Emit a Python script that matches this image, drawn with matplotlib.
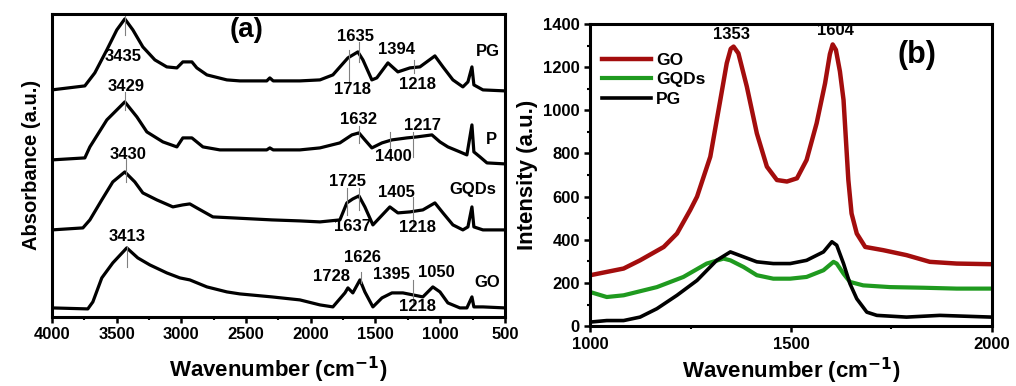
import matplotlib.pyplot as plt
from matplotlib.ticker import MultipleLocator

plt.rcParams['font.family'] = ['Liberation Sans', 'DejaVu Sans']
plt.rcParams['font.weight'] = 'bold'

# ---- panel (a): FTIR, stacked (wavenumber, absorbance offset units) ----
pg_wn = [4000, 3745, 3668, 3575, 3498, 3436, 3374, 3297, 3204, 3112, 3034, 2988, 2918, 2880,
         2802, 2648, 2548, 2393, 2340, 2316, 2290, 2084, 1929, 1829, 1713, 1636, 1597, 1528,
         1490, 1404, 1327, 1234, 1157, 1041, 979, 902, 825, 786, 755, 740, 670, 500]
pg_ab = [227, 231, 244, 267, 287, 298, 287, 270, 257, 250, 249, 255, 255, 249,
         242, 237, 236, 236, 236, 239, 236, 236, 237, 242, 259, 265, 257, 237,
         239, 254, 245, 249, 250, 261, 250, 237, 230, 235, 250, 232, 227, 226]

p_wn = [4000, 3745, 3706, 3575, 3436, 3343, 3266, 3142, 3034, 2988, 2918, 2833, 2702, 2548,
        2340, 2316, 2290, 2084, 1929, 1775, 1682, 1628, 1582, 1528, 1450, 1373, 1257, 1180,
        1064, 1002, 941, 848, 794, 755, 740, 693, 639, 500]
p_ab = [157, 159, 170, 197, 215, 200, 185, 175, 170, 179, 179, 170, 167, 167,
        167, 169, 167, 167, 169, 174, 182, 184, 177, 169, 174, 177, 179, 180,
        182, 175, 170, 165, 162, 192, 165, 160, 154, 153]

gqd_wn = [4000, 3760, 3706, 3614, 3529, 3436, 3359, 3297, 3189, 3065, 2988, 2934, 2880, 2756,
          2602, 2300, 2084, 1929, 1775, 1721, 1675, 1628, 1582, 1520, 1389, 1327, 1234, 1134,
          1041, 979, 902, 825, 786, 755, 740, 670, 500]
gqd_ab = [87, 89, 97, 117, 135, 145, 135, 124, 117, 110, 112, 113, 109, 100,
          99, 97, 96, 95, 97, 114, 118, 121, 110, 92, 110, 104, 105, 107,
          114, 104, 92, 87, 90, 110, 90, 87, 87]

go_wn = [4000, 3722, 3683, 3614, 3529, 3421, 3336, 3243, 3112, 3011, 2934, 2802, 2648, 2548,
         2300, 2084, 1929, 1829, 1736, 1713, 1675, 1620, 1582, 1520, 1450, 1373, 1288, 1211,
         1134, 1057, 1002, 941, 848, 794, 755, 740, 670, 500]
go_ab = [9, 8, 15, 39, 54, 69, 59, 52, 44, 39, 37, 30, 25, 23,
         20, 17, 12, 10, 24, 29, 24, 37, 25, 10, 19, 24, 24, 22,
         20, 30, 25, 14, 9, 9, 20, 10, 10, 9]

# peak labels: (text, wavenumber, height)
ftir_labels = [
    ("3435", 3451, 260), ("1635", 1651, 280), ("1718", 1675, 227), ("1394", 1335, 267),
    ("1218", 1172, 232), ("PG", 632, 265),
    ("3429", 3428, 230), ("1632", 1628, 197), ("1400", 1365, 160), ("1217", 1134, 191),
    ("P", 601, 177),
    ("3430", 3413, 162), ("1725", 1713, 135), ("1637", 1675, 90), ("1405", 1335, 124),
    ("1218", 1172, 89), ("GQDs", 747, 127),
    ("3413", 3421, 80), ("1728", 1837, 40), ("1626", 1597, 59), ("1395", 1373, 42),
    ("1050", 1026, 44), ("1218", 1172, 10), ("GO", 640, 34),
]
# marker lines: (wavenumber, y from, y to)
ftir_marks = [
    (3436, 282, 305), (1628, 255, 275), (1705, 235, 267), (1203, 244, 257),
    (3436, 207, 225), (1628, 174, 191), (1389, 164, 185), (1211, 160, 185),
    (3428, 135, 159), (1721, 102, 129), (1628, 107, 129), (1211, 92, 120),
    (3421, 50, 70), (1612, 34, 45), (1211, 14, 37),
]

# ---- panel (b): Raman ----
go_r_wn = [1000, 1083, 1124, 1183, 1216, 1249, 1266, 1299, 1324, 1340, 1350, 1357, 1369, 1390,
           1415, 1440, 1465, 1490, 1515, 1539, 1564, 1585, 1597, 1604, 1612, 1622, 1631, 1643,
           1651, 1664, 1685, 1730, 1788, 1846, 1913, 2000]
go_r_int = [236, 267, 305, 367, 429, 538, 600, 785, 1048, 1218, 1285, 1295, 1264, 1110,
            893, 739, 677, 670, 685, 770, 940, 1125, 1260, 1305, 1280, 1180, 1048, 677,
            522, 429, 367, 352, 329, 298, 290, 287]

gqd_r_wn = [1000, 1041, 1083, 1166, 1232, 1290, 1332, 1349, 1382, 1415, 1456, 1498, 1539, 1581,
            1606, 1614, 1631, 1647, 1680, 1747, 1830, 1913, 2000]
gqd_r_int = [158, 135, 143, 181, 228, 290, 313, 305, 274, 236, 220, 220, 228, 259,
             298, 290, 243, 205, 189, 181, 178, 174, 174]

pg_r_wn = [1000, 1041, 1083, 1124, 1166, 1216, 1266, 1315, 1349, 1382, 1415, 1456, 1498, 1539,
           1581, 1602, 1614, 1631, 1647, 1664, 1689, 1714, 1788, 1871, 2000]
pg_r_int = [19, 26, 26, 42, 81, 143, 212, 305, 344, 321, 298, 290, 290, 305,
            344, 391, 375, 290, 197, 127, 65, 50, 42, 50, 42]

fig = plt.figure(figsize=(10.16, 3.86), dpi=100)
ax1 = fig.add_axes([0.051, 0.179, 0.446, 0.785])
ax2 = fig.add_axes([0.581, 0.155, 0.395, 0.783])

for wn, ab in [(pg_wn, pg_ab), (p_wn, p_ab), (gqd_wn, gqd_ab), (go_wn, go_ab)]:
    ax1.plot(wn, ab, color="black", lw=2.3, solid_joinstyle="round", solid_capstyle="round")
for x, y0, y1 in ftir_marks:
    ax1.plot([x, x], [y0, y1], color="#808080", lw=0.8)
for t, x, y in ftir_labels:
    ax1.text(x, y, t, ha="center", va="center", fontsize=12, fontweight="bold")
ax1.text(2493, 287, "(a)", ha="center", va="center", fontsize=20, fontweight="bold")

ax1.set_xlim(4000, 500)
ax1.set_ylim(0, 303)
ax1.xaxis.set_major_locator(MultipleLocator(500))
ax1.xaxis.set_minor_locator(MultipleLocator(250))
ax1.set_yticks([])
ax1.set_xlabel("Wavenumber (cm$^{\\mathbf{-1}}$)", fontsize=16, fontweight="bold", labelpad=9)
ax1.set_ylabel("Absorbance (a.u.)", fontsize=14.5, fontweight="bold", labelpad=8)

ax2.plot(go_r_wn, go_r_int, color="#a30d0d", lw=3.2, label="GO", solid_joinstyle="round")
ax2.plot(gqd_r_wn, gqd_r_int, color="#1f9a1f", lw=3, label="GQDs", solid_joinstyle="round")
ax2.plot(pg_r_wn, pg_r_int, color="black", lw=2.6, label="PG", solid_joinstyle="round")
ax2.text(1353, 1350, "1353", ha="center", va="center", fontsize=12, fontweight="bold")
ax2.text(1612, 1368, "1604", ha="center", va="center", fontsize=12, fontweight="bold")
ax2.text(1813, 1256, "(b)", ha="center", va="center", fontsize=22, fontweight="bold")
ax2.set_xlim(1000, 2000)
ax2.set_ylim(0, 1400)
ax2.xaxis.set_major_locator(MultipleLocator(500))
ax2.xaxis.set_minor_locator(MultipleLocator(250))
ax2.yaxis.set_major_locator(MultipleLocator(200))
ax2.yaxis.set_minor_locator(MultipleLocator(100))
ax2.set_xlabel("Wavenumber (cm$^{\\mathbf{-1}}$)", fontsize=16, fontweight="bold", labelpad=3)
ax2.set_ylabel("Intensity (a.u.)", fontsize=16, fontweight="bold", labelpad=4)
ax2.legend(loc="upper left", bbox_to_anchor=(0.0, 0.945), frameon=False, fontsize=12.5,
           handlelength=2.8, handletextpad=0.3, labelspacing=0.25, borderaxespad=0.3)

for ax in (ax1, ax2):
    for s in ax.spines.values():
        s.set_linewidth(2.2)
    ax.tick_params(which="major", direction="out", length=4, width=1.8, labelsize=12)
    ax.tick_params(which="minor", direction="out", length=2.5, width=1.5)
    for lab in ax.get_xticklabels() + ax.get_yticklabels():
        lab.set_fontweight("bold")

fig.savefig("out.png", dpi=100)
